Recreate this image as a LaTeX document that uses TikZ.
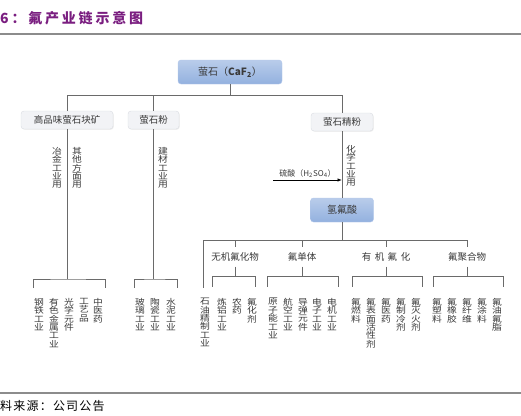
\documentclass[tikz,border=0pt]{standalone}
\usepackage{fontspec}
\setmainfont{Noto Sans CJK SC}
\usepackage{tikz}
\usetikzlibrary{positioning, arrows.meta, shadows}
\definecolor{titlepurple}{HTML}{7A1E80}
\definecolor{nodeblue}{HTML}{93B1DF}
\definecolor{nodeblueedge}{HTML}{B3C8EA}
\definecolor{boxgray}{HTML}{F2F3F6}
\definecolor{boxedge}{HTML}{D9DCE2}
\definecolor{linegray}{HTML}{6A6A6A}
\definecolor{rulegray}{HTML}{8C8C8C}
\definecolor{textgray}{HTML}{3A3A3A}

\begin{document}
\begin{tikzpicture}[x=1pt, y=-1pt,
    main/.style={rectangle, rounded corners=3pt, draw=nodeblueedge, top color=nodeblue!65,
                 bottom color=nodeblue, align=center, text=textgray, inner sep=0pt,
                 font=\fontsize{10}{12}\selectfont},
    src/.style={rectangle, rounded corners=3pt, draw=boxedge, fill=boxgray, inner sep=0pt,
                drop shadow={opacity=0.12, shadow xshift=0.8pt, shadow yshift=-0.8pt},
                text=textgray, font=\fontsize{9.5}{11}\selectfont, minimum height=18pt},
    cat/.style={inner xsep=0pt, inner ysep=5pt, text=textgray, font=\fontsize{9.5}{11}\selectfont},
    leaf/.style={anchor=north, align=center, inner sep=0pt, text=textgray,
                 font=\fontsize{8.5}{8.4}\selectfont\addfontfeature{FakeStretch=1.15}},
    conn/.style={draw=linegray, line width=0.8pt},
    arr/.style={-{Latex[length=4.5pt, width=3.5pt]}, line width=0.8pt, black}
]
    \useasboundingbox (0,0) rectangle (521,415);

    % Title and rules
    \node[anchor=west, inner sep=0pt, text=titlepurple,
          font=\fontsize{14}{14}\selectfont\bfseries\addfontfeature{LetterSpace=20}] (title) at (0,18) {6：氟产业链示意图};
    \draw[rulegray, line width=2pt] (0,33.5) -- (521,33.5);
    \draw[rulegray, line width=1.5pt] (0,393) -- (521,393);
    \node[anchor=west, inner sep=0pt, font=\fontsize{12}{12}\selectfont\addfontfeature{LetterSpace=10}] (source) at (0,406) {料来源：公司公告};

    % Fluorite
    \node[main, minimum width=104pt, minimum height=24pt] (fluorite) at (230,72) {萤石（\textbf{CaF\textsubscript{2}}）};
    \node[src, minimum width=92pt] (lump) at (67,120) {高品味萤石块矿};
    \node[src, minimum width=51pt] (powder) at (153.5,120) {萤石粉};
    \node[src, minimum width=62pt] (fine) at (342,122) {萤石精粉};

    \coordinate (top bar) at (230,95);
    \draw[conn] (fluorite) -- (top bar);
    \draw[conn] (top bar) -| (lump.north);
    \draw[conn] (top bar) -| (powder.north);
    \draw[conn] (top bar) -| (fine.north);

    % Lump ore
    \coordinate (lump bar) at (67,279);
    \draw[conn] (lump) -- (lump bar);
    \draw[conn] (lump bar) ++(-34,9) |- (lump bar) -| ++(38,9);
    \node[leaf] (metal use) at (57,147) {冶\\金\\工\\业\\用};
    \node[leaf] (other use) at (77,147) {其\\他\\方\\面\\用};
    \node[leaf] (steel) at (39,298) {钢\\铁\\工\\业};
    \node[leaf] (nonferrous) at (54,298) {有\\色\\金\\属\\工\\业};
    \node[leaf] (optics) at (69,298) {光\\学\\元\\件};
    \node[leaf] (craft) at (84,298) {工\\艺\\品};
    \node[leaf] (medicine) at (98,298) {中\\医\\药};

    % Powder
    \coordinate (powder bar) at (153.5,279);
    \draw[conn] (powder) -- (powder bar);
    \draw[conn] (powder bar) ++(-19.5,9) |- (powder bar) -| ++(23.5,9);
    \node[leaf] (build use) at (163,147) {建\\材\\工\\业\\用};
    \node[leaf] (glass) at (140,298) {玻\\璃\\工\\业};
    \node[leaf] (ceramic) at (155,298) {陶\\瓷\\工\\业};
    \node[leaf] (cement) at (171,298) {水\\泥\\工\\业};

    % Hydrofluoric acid
    \node[main, minimum width=63pt, minimum height=24pt] (hf) at (342,210) {氢氟酸};
    \draw[conn] (fine) -- (hf);
    \node[leaf] (chem use) at (351,145) {化\\学\\工\\业\\用};
    \coordinate (acid) at (273,180);
    \draw[arr] (acid) -- node[above=2pt, inner sep=0pt, text=textgray, font=\fontsize{8}{9}\selectfont]
        {硫酸（H\textsubscript{2}SO\textsubscript{4}）} (acid -| hf);

    \node[cat] (inorg) at (235,257) {无机氟化物};
    \node[cat] (mono) at (302,257) {氟单体};
    \node[cat] (org) at (386,257) {有\hspace{3.5pt}机\hspace{3.5pt}氟\hspace{3.5pt}化};
    \node[cat] (polymer) at (467,257) {氟聚合物};

    \coordinate (hf bar) at (342,240);
    \draw[conn] (hf) -- (hf bar);
    \draw[conn] (hf bar) -| ++(-139,48);
    \draw[conn] (hf bar) -| (inorg.north);
    \draw[conn] (hf bar) -| (mono.north);
    \draw[conn] (hf bar) -| (org.north);
    \draw[conn] (hf bar) -| (polymer.north);

    % Category brackets
    \draw[conn] (inorg.south) -- ++(0,10) coordinate (inorg bar);
    \draw[conn] (inorg bar) ++(-23,10) |- (inorg bar) -| ++(20,10);
    \draw[conn] (mono.south) -- ++(0,10) coordinate (mono bar);
    \draw[conn] (mono bar) ++(-35,10) |- (mono bar) -| ++(36,10);
    \draw[conn] (org.south) -- ++(0,10) coordinate (org bar);
    \draw[conn] (org bar) ++(-34,10) |- (org bar) -| ++(36,10);
    \draw[conn] (polymer.south) -- ++(0,10) coordinate (polymer bar);
    \draw[conn] (polymer bar) ++(-34,10) |- (polymer bar) -| ++(36,10);

    % Downstream uses
    \node[leaf] (refining) at (205,298) {石\\油\\精\\制\\工\\业};
    \node[leaf] (aluminium) at (222,298) {炼\\铝\\工\\业};
    \node[leaf] (pesticide) at (237,298) {农\\药};
    \node[leaf] (fluorinator) at (252,298) {氟\\化\\剂};
    \node[leaf] (nuclear) at (273,298) {原\\子\\能\\工\\业};
    \node[leaf] (aviation) at (288,298) {航\\空\\工\\业};
    \node[leaf] (missile) at (303,298) {导\\弹\\元\\件};
    \node[leaf] (electronic) at (317,298) {电\\子\\工\\业};
    \node[leaf] (motor) at (332,298) {电\\机\\工\\业};
    \node[leaf] (fuel) at (356,298) {氟\\燃\\料};
    \node[leaf] (surfactant) at (371,298) {氟\\表\\面\\活\\性\\剂};
    \node[leaf] (drug) at (386,298) {氟\\医\\药};
    \node[leaf] (refrigerant) at (401,298) {氟\\制\\冷\\剂};
    \node[leaf] (extinguisher) at (416,298) {氟\\灭\\火\\剂};
    \node[leaf] (plastic) at (437,298) {氟\\塑\\料};
    \node[leaf] (rubber) at (452,298) {氟\\橡\\胶};
    \node[leaf] (fibre) at (467,298) {氟\\纤\\维};
    \node[leaf] (coating) at (482,298) {氟\\涂\\料};
    \node[leaf] (grease) at (497,298) {氟\\油\\氟\\脂};
\end{tikzpicture}
\end{document}
